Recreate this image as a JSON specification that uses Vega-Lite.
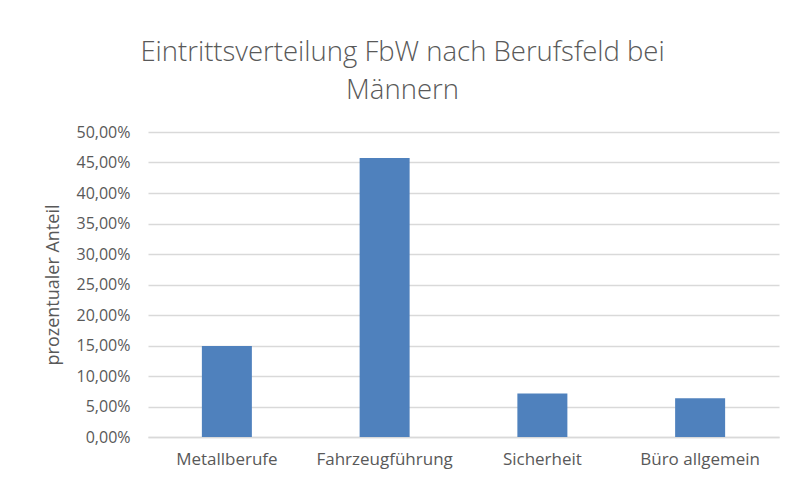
{
  "$schema": "https://vega.github.io/schema/vega-lite/v6.json",
  "width": 631,
  "height": 305,
  "autosize": {"type": "none"},
  "padding": {"left": 148, "top": 132, "right": 20, "bottom": 41},
  "background": "white",
  "title": {
    "text": ["Eintrittsverteilung FbW nach Berufsfeld bei", "Männern"],
    "frame": "bounds",
    "anchor": "middle",
    "dx": -9,
    "fontSize": 27.5,
    "font": "Open Sans",
    "fontWeight": 300,
    "color": "#595959",
    "lineHeight": 38,
    "offset": 20
  },
  "data": {
    "values": [
      {"Berufsfeld": "Metallberufe", "Anteil": 0.149},
      {"Berufsfeld": "Fahrzeugführung", "Anteil": 0.4575},
      {"Berufsfeld": "Sicherheit", "Anteil": 0.0712},
      {"Berufsfeld": "Büro allgemein", "Anteil": 0.0635}
    ]
  },
  "mark": {"type": "bar", "color": "#4F81BD"},
  "encoding": {
    "x": {
      "field": "Berufsfeld",
      "type": "nominal",
      "sort": null,
      "scale": {"paddingInner": 0.683, "paddingOuter": 0.3415},
      "axis": {
        "title": null,
        "labelAngle": 0,
        "labelFontSize": 17,
        "labelFont": "Open Sans",
        "labelColor": "#595959",
        "labelPadding": 14,
        "ticks": false,
        "domainColor": "#d9d9d9",
        "domainWidth": 1.5,
        "grid": false
      }
    },
    "y": {
      "field": "Anteil",
      "type": "quantitative",
      "scale": {"domain": [0, 0.5], "nice": false},
      "axis": {
        "title": "prozentualer Anteil",
        "titleFontSize": 18,
        "titleFont": "Open Sans",
        "titleFontWeight": "normal",
        "titleColor": "#595959",
        "titlePadding": 14,
        "values": [0, 0.05, 0.1, 0.15, 0.2, 0.25, 0.3, 0.35, 0.4, 0.45, 0.5],
        "format": ".2%",
        "labelFontSize": 16,
        "labelFont": "Open Sans",
        "labelColor": "#595959",
        "labelPadding": 18,
        "ticks": false,
        "domain": false,
        "gridColor": "#d9d9d9",
        "gridWidth": 1.5
      }
    }
  },
  "config": {
    "view": {"stroke": null},
    "locale": {
      "number": {"decimal": ",", "thousands": ".", "grouping": [3], "currency": ["", " €"]}
    }
  }
}
